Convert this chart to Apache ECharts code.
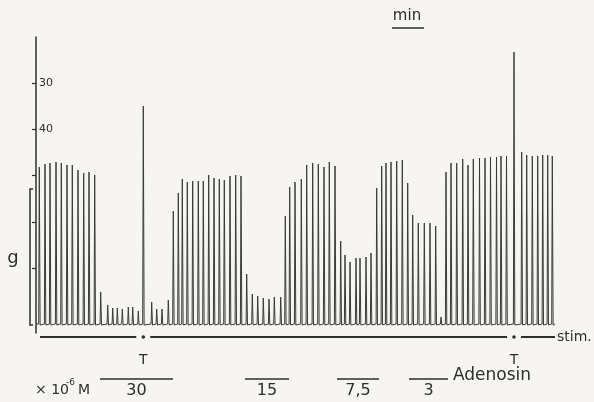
<!DOCTYPE html>
<html>
<head>
<meta charset="utf-8">
<script src="https://cdn.jsdelivr.net/npm/echarts@6/dist/echarts.min.js"></script>
<style>
  html, body { margin: 0; padding: 0; background: #f6f5f1; }
  #main { width: 594px; height: 402px; }
</style>
</head>
<body>
<div id="main"></div>
<script>
// twitch times (trace time units) and peak heights
var twitchTime = [3.3, 9, 14, 20, 25.3, 31, 36.3, 42, 47.7, 53, 58.7,
  64.7, 71.7, 76.7, 81.3, 86.3, 92.3, 96.7, 102.3, 107.3, 115.7, 120.7, 126, 132.3,
  137.3, 142.3, 146.3, 151.3, 156.7, 162.3, 167.3, 172.7, 178, 183.3, 188.3, 194, 199.7, 205,
  210.7, 216.3, 221.7, 227.3, 233, 238.3, 244.7,
  249.3, 253.7, 259, 265.3, 270.7, 276.7, 282.3, 288, 293.3, 299,
  304.7, 309, 314, 320, 324, 330, 335,
  340.7, 345.7, 350, 355, 360.7, 366.3, 371.7,
  376.7, 382.3, 388.3, 394, 399.7, 405,
  410, 415, 420.7, 426.7, 432, 437.3, 443.5, 449, 454.5, 460.5, 465, 470.5,
  478, 485.7, 490.7, 496.3, 501.7, 506.7, 511.7, 516.3];
var twitchPeak = [158, 161, 162, 163, 162, 160, 160, 155, 152, 153, 150,
  33, 20, 17, 17, 16, 18, 18, 14, 219, 23, 16, 16, 25,
  114, 132, 146, 143, 144, 144, 144, 150, 147, 146, 145, 149, 150, 149,
  51, 31, 29, 27, 26, 28, 28,
  109, 138, 143, 146, 160, 162, 161, 158, 163, 159,
  84, 70, 63, 67, 67, 68, 72,
  137, 159, 162, 163, 164, 165, 142,
  110, 102, 102, 102, 99, 8,
  153, 162, 162, 166, 160, 166, 167, 167, 168, 168, 169, 169,
  273, 173, 170, 169, 169, 170, 170, 169];

// test stimuli (T) on the stimulus line
var triggerTime = [107.3, 478];
var stimStart = 4, stimEnd = 519;

// adenosine application periods and concentrations (x 10^-6 M)
var doseLabel = ['30', '15', '7,5', '3'];
var doseStart = [64, 209, 301, 373];
var doseEnd = [137, 253, 343, 412];

// y axis ticks and the two printed scale labels
var yTicks = [57, 103, 150, 196, 242];
var yLabelValues = [196, 242];
var yLabelText = ['40', '30'];

var ink = '#2e2e2e';
var font = 'DejaVu Sans';

// pen trace: each twitch goes up to its peak and back to the baseline
var trace = [[0, 1]];
for (var i = 0; i < twitchTime.length; i++) {
  trace.push([twitchTime[i] - 0.6, 1]);
  trace.push([twitchTime[i], twitchPeak[i]]);
  trace.push([twitchTime[i] + 0.8, 0]);
}
trace.push([519, 1]);

var chart = echarts.init(document.getElementById('main'));
var option = {
  backgroundColor: '#f6f5f1',
  animation: false,
  grid: { left: 36, right: 0, top: 37, bottom: 69 },
  xAxis: { type: 'value', min: 0, max: 558, show: false },
  yAxis: {
    type: 'value', min: -8, max: 288,
    splitLine: { show: false },
    axisLine: { show: true, lineStyle: { color: ink, width: 1.5 } },
    axisTick: { show: true, length: 4, customValues: yTicks, lineStyle: { color: ink, width: 1.2 } },
    axisLabel: {
      inside: true, margin: 3, color: ink, fontFamily: font, fontSize: 11,
      customValues: yLabelValues,
      formatter: function (v) { return yLabelText[yLabelValues.indexOf(v)]; }
    }
  },
  series: [{
    type: 'line',
    data: trace,
    showSymbol: false,
    lineStyle: { color: '#3a3a3a', width: 1 }
  }]
};
chart.setOption(option);

function px(t, v) { return chart.convertToPixel({ gridIndex: 0 }, [t, v]); }

var g = [];
function line(x1, y1, x2, y2, w) {
  g.push({ type: 'line', shape: { x1: x1, y1: y1, x2: x2, y2: y2 }, style: { stroke: ink, lineWidth: w || 1.5 } });
}
function text(s, x, y, size, align, vAlign) {
  g.push({ type: 'text', x: x, y: y, style: { text: s, fill: ink, font: size + 'px "' + font + '"', align: align || 'center', verticalAlign: vAlign || 'middle' } });
}

// stimulus line with the test stimulus dots
var sy = px(0, -12)[1];
var segs = [stimStart];
triggerTime.forEach(function (t) { segs.push(t - 7, t + 7); });
segs.push(stimEnd);
for (var k = 0; k < segs.length; k += 2) line(px(segs[k], 0)[0], sy, px(segs[k + 1], 0)[0], sy, 2);
triggerTime.forEach(function (t) {
  var p = px(t, -12);
  g.push({ type: 'circle', shape: { cx: p[0], cy: p[1], r: 1.8 }, style: { fill: ink } });
  text('T', p[0], px(t, -35)[1], 14);
});
text('stim.', px(stimEnd, 0)[0] + 2, sy, 14, 'left');

// adenosine bars
var by = px(0, -54)[1];
for (var j = 0; j < doseLabel.length; j++) {
  var a = px(doseStart[j], 0)[0], b = px(doseEnd[j], 0)[0];
  line(a, by, b, by, 1.6);
  text(doseLabel[j], (a + b) / 2, by + 12, 16);
}
text('Adenosin', px(doseEnd[3], 0)[0] + 5, by - 3, 17, 'left');
text('× 10', 35, 390, 14, 'left');
text('-6', 66, 383, 9, 'left');
text('M', 78, 390, 14, 'left');

// calibration bracket and unit
var c0 = px(0, 0)[1], c1 = px(0, 136)[1];
g.push({ type: 'polyline', shape: { points: [[33, c1], [30, c1], [30, c0], [33, c0]] }, style: { stroke: ink, lineWidth: 1.5, fill: null } });
text('g', 13, 258, 18);

// time scale
text('min', 407, 16, 15);
line(392, 28, 424, 28, 1.5);

chart.setOption({ graphic: g });
</script>
</body>
</html>
